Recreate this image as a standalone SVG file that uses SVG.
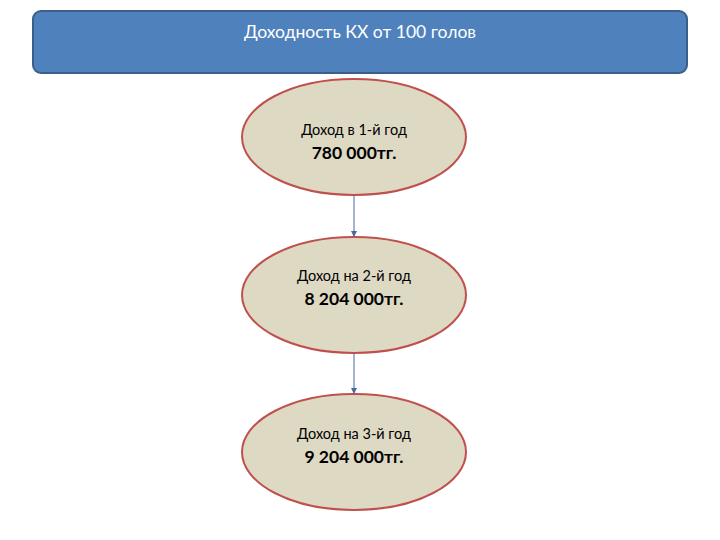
<svg xmlns="http://www.w3.org/2000/svg" width="720" height="540" viewBox="0 0 720 540">
<defs>
<style>
.hdr{fill:#4f81bd;stroke:#3a5f8b;stroke-width:2}
.ht{font-family:Lato,"Liberation Sans",sans-serif;font-size:17.5px;fill:#ffffff;text-anchor:middle}
.el{fill:#ddd9c3;stroke:#c0504d;stroke-width:2}
.t1{font-family:Lato,"Liberation Sans",sans-serif;font-size:14.5px;fill:#000;text-anchor:middle}
.t2{font-family:Lato,"Liberation Sans",sans-serif;font-size:17.5px;font-weight:bold;fill:#000;text-anchor:middle}
.con{stroke:#4a6a9c;stroke-width:1;fill:none;marker-end:url(#ah)}
</style>
<marker id="ah" markerWidth="6" markerHeight="6" refX="5" refY="3" orient="auto" markerUnits="userSpaceOnUse">
<path d="M0,0 L6,3 L0,6 Z" fill="#4a6a9c"/>
</marker>
</defs>
<rect width="720" height="540" fill="#ffffff"/>
<g id="header">
<rect class="hdr" x="33" y="11" width="654" height="62" rx="8" ry="8"/>
<text class="ht" x="360" y="38">Доходность КХ от 100 голов</text>
</g>
<g id="connectors">
<line class="con" x1="354" y1="196" x2="354" y2="236"/>
<line class="con" x1="354" y1="354" x2="354" y2="393"/>
</g>
<g id="node1">
<ellipse class="el" cx="354" cy="137" rx="112" ry="58"/>
<text class="t1" x="354" y="135">Доход в 1-й год</text>
<text class="t2" x="354" y="159">780 000тг.</text>
</g>
<g id="node2">
<ellipse class="el" cx="354" cy="295" rx="112" ry="58"/>
<text class="t1" x="354" y="281">Доход на 2-й год</text>
<text class="t2" x="354" y="305">8 204 000тг.</text>
</g>
<g id="node3">
<ellipse class="el" cx="354" cy="452" rx="112" ry="58"/>
<text class="t1" x="354" y="439">Доход на 3-й год</text>
<text class="t2" x="354" y="463">9 204 000тг.</text>
</g>
</svg>
